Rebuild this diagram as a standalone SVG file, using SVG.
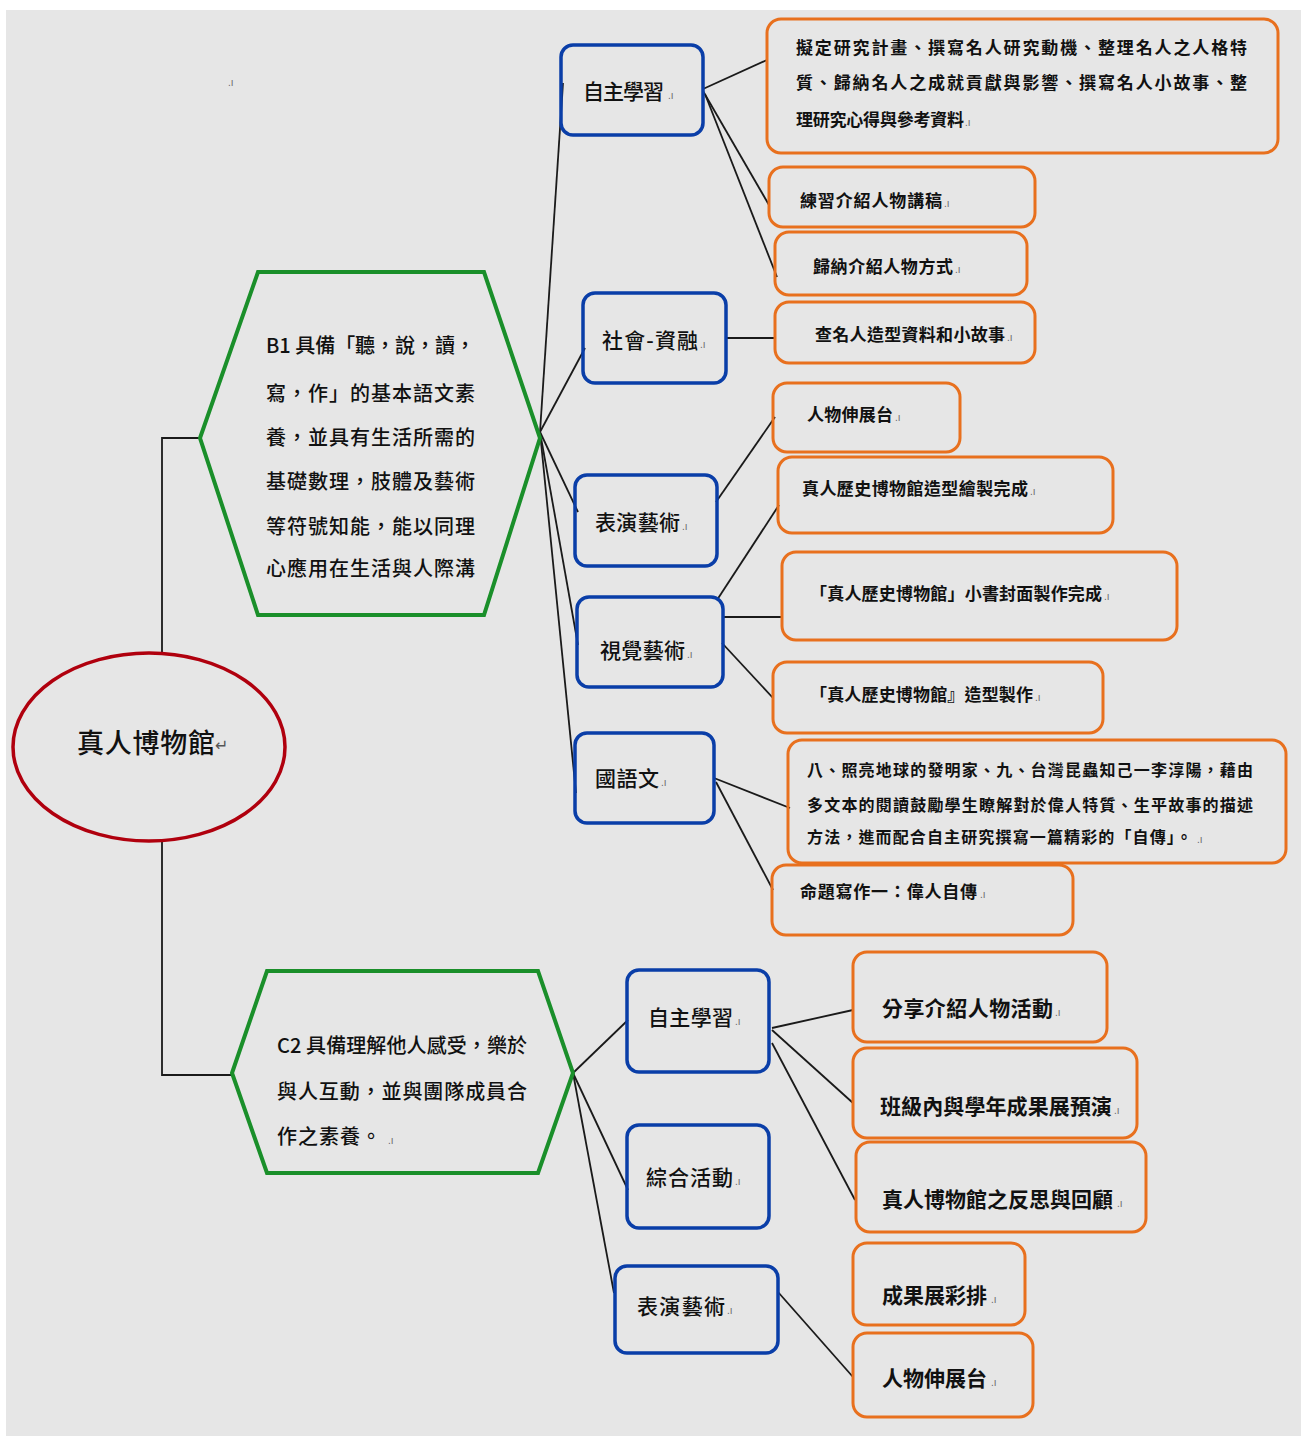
<svg xmlns="http://www.w3.org/2000/svg" width="1301" height="1436" viewBox="0 0 1301 1436">
<style>
.bg{fill:#e6e6e6}
.hex{fill:none;stroke:#1a8f2a;stroke-width:4;stroke-linejoin:miter}
.ell{fill:none;stroke:#b0000e;stroke-width:3.5}
.blue{fill:none;stroke:#0a3ea8;stroke-width:3.5;rx:12px;ry:12px}
.org{fill:none;stroke:#e8701e;stroke-width:3;rx:14px;ry:14px}
.conn line,.conn polyline{stroke:#1a1a1a;stroke-width:1.8;fill:none}
text{font-family:"Noto Sans CJK TC","Noto Sans CJK JP",sans-serif;fill:#111}
.t19{font-size:20px;font-weight:500}
.tb{font-size:21px;font-weight:500}
.to{font-size:17px;font-weight:700}
.tl{font-size:21px;font-weight:700}
.tt{font-size:27px;font-weight:500}
.pm{font-family:"Liberation Sans",sans-serif;font-size:10px;fill:#666}
</style>
<rect class="bg" x="6" y="10" width="1295" height="1426"/>
<text class="pm" x="228" y="86">.ı</text>

<g id="connectors" class="conn">
  <polyline points="162,653 162,438 200,438"/>
  <polyline points="162,842 162,1075 232,1075"/>
  <line x1="540" y1="432" x2="563" y2="83"/>
  <line x1="540" y1="432" x2="585" y2="348"/>
  <line x1="540" y1="432" x2="578" y2="512"/>
  <line x1="540" y1="432" x2="578" y2="645"/>
  <line x1="540" y1="432" x2="576" y2="793"/>
  <line x1="703" y1="89" x2="767" y2="60"/>
  <line x1="703" y1="91" x2="769" y2="205"/>
  <line x1="705" y1="94" x2="777" y2="277"/>
  <line x1="726" y1="338" x2="776" y2="338"/>
  <line x1="716" y1="502" x2="775" y2="417"/>
  <line x1="717" y1="600" x2="779" y2="505"/>
  <line x1="723" y1="617" x2="782" y2="617"/>
  <line x1="722" y1="643" x2="773" y2="698"/>
  <line x1="714" y1="778" x2="790" y2="808"/>
  <line x1="716" y1="782" x2="773" y2="890"/>
  <line x1="573" y1="1073" x2="628" y2="1020"/>
  <line x1="573" y1="1073" x2="628" y2="1190"/>
  <line x1="573" y1="1073" x2="614" y2="1293"/>
  <line x1="772" y1="1028" x2="853" y2="1010"/>
  <line x1="772" y1="1030" x2="853" y2="1103"/>
  <line x1="772" y1="1043" x2="855" y2="1200"/>
  <line x1="778" y1="1292" x2="853" y2="1377"/>
</g>

<g id="root">
  <ellipse class="ell" cx="149" cy="747" rx="136" ry="94"/>
  <text class="tt" x="77" y="753" textLength="138" lengthAdjust="spacing">真人博物館</text>
  <text x="215" y="751" style="font-size:16px;fill:#555;font-family:'DejaVu Sans',sans-serif">↵</text>
</g>

<g id="b1">
  <polygon class="hex" points="258,272 484,272 540,438 484,615 258,615 200,438"/>
  <text class="t19" x="266" y="353" textLength="209" lengthAdjust="spacing">B1 具備「聽，說，讀，</text>
  <text class="t19" x="266" y="401" textLength="209" lengthAdjust="spacing">寫，作」的基本語文素</text>
  <text class="t19" x="266" y="445" textLength="209" lengthAdjust="spacing">養，並具有生活所需的</text>
  <text class="t19" x="266" y="489" textLength="209" lengthAdjust="spacing">基礎數理，肢體及藝術</text>
  <text class="t19" x="266" y="534" textLength="209" lengthAdjust="spacing">等符號知能，能以同理</text>
  <text class="t19" x="266" y="576" textLength="209" lengthAdjust="spacing">心應用在生活與人際溝</text>
</g>

<g id="c2">
  <polygon class="hex" points="267,971 538,971 573,1073 538,1173 267,1173 232,1073"/>
  <text class="t19" x="277" y="1053" textLength="250" lengthAdjust="spacing">C2 具備理解他人感受，樂於</text>
  <text class="t19" x="277" y="1099" textLength="250" lengthAdjust="spacing">與人互動，並與團隊成員合</text>
  <text class="t19" x="277" y="1144" textLength="104" lengthAdjust="spacing">作之素養。</text>
  <text class="pm" x="388" y="1144">.ı</text>
</g>

<g id="blue-zizhu1">
  <rect class="blue" x="561" y="45" width="142" height="90"/>
  <text class="tb" x="583" y="99" textLength="81" lengthAdjust="spacing">自主學習</text>
  <text class="pm" x="668" y="99">.ı</text>
</g>
<g id="blue-shehui">
  <rect class="blue" x="583" y="293" width="143" height="90"/>
  <text class="tb" x="602" y="348" textLength="96" lengthAdjust="spacing">社會-資融</text>
  <text class="pm" x="700" y="348">.ı</text>
</g>
<g id="blue-biaoyan1">
  <rect class="blue" x="575" y="475" width="142" height="91"/>
  <text class="tb" x="595" y="530" textLength="85" lengthAdjust="spacing">表演藝術</text>
  <text class="pm" x="682" y="530">.ı</text>
</g>
<g id="blue-shijue">
  <rect class="blue" x="577" y="597" width="146" height="90"/>
  <text class="tb" x="600" y="658" textLength="85" lengthAdjust="spacing">視覺藝術</text>
  <text class="pm" x="687" y="658">.ı</text>
</g>
<g id="blue-guoyu">
  <rect class="blue" x="575" y="733" width="139" height="90"/>
  <text class="tb" x="595" y="786" textLength="64" lengthAdjust="spacing">國語文</text>
  <text class="pm" x="661" y="786">.ı</text>
</g>
<g id="blue-zizhu2">
  <rect class="blue" x="627" y="970" width="142" height="102"/>
  <text class="tb" x="648" y="1025" textLength="85" lengthAdjust="spacing">自主學習</text>
  <text class="pm" x="735" y="1025">.ı</text>
</g>
<g id="blue-zonghe">
  <rect class="blue" x="627" y="1125" width="142" height="103"/>
  <text class="tb" x="646" y="1185" textLength="87" lengthAdjust="spacing">綜合活動</text>
  <text class="pm" x="735" y="1185">.ı</text>
</g>
<g id="blue-biaoyan2">
  <rect class="blue" x="615" y="1266" width="163" height="87"/>
  <text class="tb" x="637" y="1314" textLength="88" lengthAdjust="spacing">表演藝術</text>
  <text class="pm" x="727" y="1314">.ı</text>
</g>

<g id="o-yanjiu">
  <rect class="org" x="767" y="19" width="511" height="134"/>
  <text class="to" x="796" y="54" textLength="451" lengthAdjust="spacing">擬定研究計畫、撰寫名人研究動機、整理名人之人格特</text>
  <text class="to" x="796" y="89" textLength="451" lengthAdjust="spacing">質、歸納名人之成就貢獻與影響、撰寫名人小故事、整</text>
  <text class="to" x="796" y="126" textLength="168" lengthAdjust="spacing">理研究心得與參考資料</text>
  <text class="pm" x="965" y="126">.ı</text>
</g>
<g id="o-jianggao">
  <rect class="org" x="769" y="167" width="266" height="60"/>
  <text class="to" x="800" y="207" textLength="142" lengthAdjust="spacing">練習介紹人物講稿</text>
  <text class="pm" x="944" y="207">.ı</text>
</g>
<g id="o-fangshi">
  <rect class="org" x="775" y="232" width="252" height="63"/>
  <text class="to" x="813" y="273" textLength="140" lengthAdjust="spacing">歸納介紹人物方式</text>
  <text class="pm" x="955" y="273">.ı</text>
</g>
<g id="o-zaoxing">
  <rect class="org" x="775" y="302" width="260" height="61"/>
  <text class="to" x="815" y="341" textLength="190" lengthAdjust="spacing">查名人造型資料和小故事</text>
  <text class="pm" x="1007" y="341">.ı</text>
</g>
<g id="o-shenzhan1">
  <rect class="org" x="773" y="383" width="187" height="69"/>
  <text class="to" x="807" y="421" textLength="86" lengthAdjust="spacing">人物伸展台</text>
  <text class="pm" x="895" y="421">.ı</text>
</g>
<g id="o-huizhi">
  <rect class="org" x="778" y="457" width="335" height="76"/>
  <text class="to" x="802" y="495" textLength="226" lengthAdjust="spacing">真人歷史博物館造型繪製完成</text>
  <text class="pm" x="1030" y="495">.ı</text>
</g>
<g id="o-xiaoshu">
  <rect class="org" x="782" y="552" width="395" height="88"/>
  <text class="to" x="810" y="600" textLength="292" lengthAdjust="spacing">「真人歷史博物館」小書封面製作完成</text>
  <text class="pm" x="1104" y="600">.ı</text>
</g>
<g id="o-zhizuo">
  <rect class="org" x="773" y="662" width="330" height="71"/>
  <text class="to" x="810" y="701" textLength="223" lengthAdjust="spacing">「真人歷史博物館』造型製作</text>
  <text class="pm" x="1035" y="701">.ı</text>
</g>
<g id="o-yuedu">
  <rect class="org" x="788" y="740" width="498" height="123"/>
  <text class="to" x="807" y="776" textLength="446" lengthAdjust="spacing" style="font-size:16px">八、照亮地球的發明家、九、台灣昆蟲知己一李淳陽，藉由</text>
  <text class="to" x="807" y="811" textLength="446" lengthAdjust="spacing" style="font-size:16px">多文本的閱讀鼓勵學生瞭解對於偉人特質、生平故事的描述</text>
  <text class="to" x="807" y="843" textLength="385" lengthAdjust="spacing" style="font-size:16px">方法，進而配合自主研究撰寫一篇精彩的「自傳」。</text>
  <text class="pm" x="1197" y="843">.ı</text>
</g>
<g id="o-mingti">
  <rect class="org" x="772" y="865" width="301" height="70"/>
  <text class="to" x="800" y="898" textLength="177" lengthAdjust="spacing">命題寫作一：偉人自傳</text>
  <text class="pm" x="980" y="898">.ı</text>
</g>
<g id="o-fenxiang">
  <rect class="org" x="853" y="952" width="254" height="90"/>
  <text class="tl" x="882" y="1016" textLength="171" lengthAdjust="spacing">分享介紹人物活動</text>
  <text class="pm" x="1055" y="1016">.ı</text>
</g>
<g id="o-yuyan">
  <rect class="org" x="853" y="1048" width="284" height="90"/>
  <text class="tl" x="880" y="1114" textLength="232" lengthAdjust="spacing">班級內與學年成果展預演</text>
  <text class="pm" x="1114" y="1114">.ı</text>
</g>
<g id="o-fansi">
  <rect class="org" x="856" y="1142" width="290" height="90"/>
  <text class="tl" x="882" y="1207" textLength="231" lengthAdjust="spacing">真人博物館之反思與回顧</text>
  <text class="pm" x="1117" y="1207">.ı</text>
</g>
<g id="o-caipai">
  <rect class="org" x="853" y="1243" width="172" height="82"/>
  <text class="tl" x="882" y="1303" textLength="105" lengthAdjust="spacing">成果展彩排</text>
  <text class="pm" x="991" y="1303">.ı</text>
</g>
<g id="o-shenzhan2">
  <rect class="org" x="853" y="1333" width="180" height="84"/>
  <text class="tl" x="882" y="1386" textLength="105" lengthAdjust="spacing">人物伸展台</text>
  <text class="pm" x="991" y="1386">.ı</text>
</g>
</svg>
